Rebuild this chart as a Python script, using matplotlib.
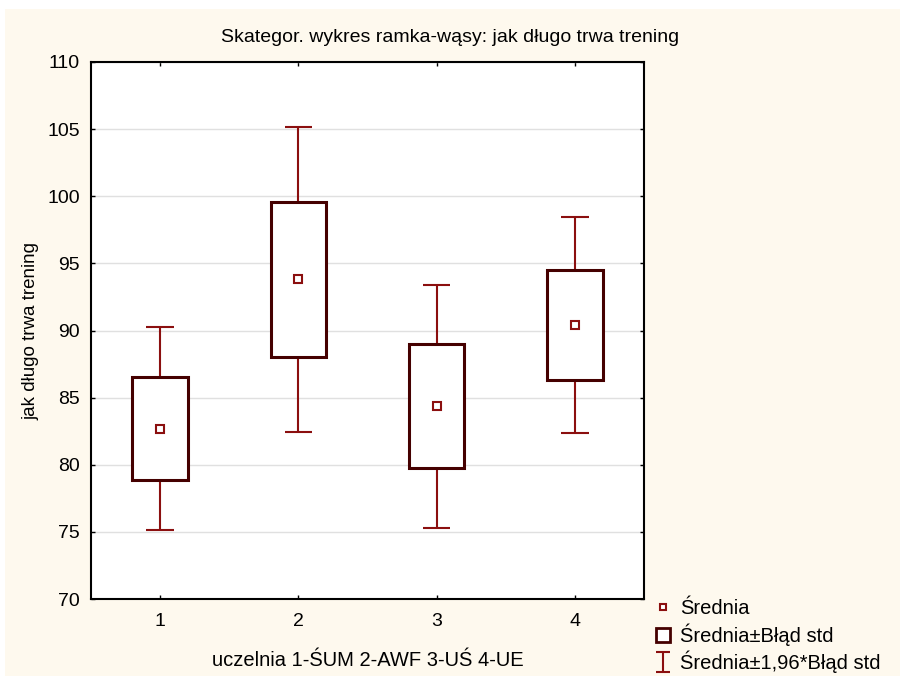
import matplotlib
matplotlib.use("Agg")
import matplotlib.pyplot as plt
import numpy as np
from matplotlib.lines import Line2D
from matplotlib.path import Path
from matplotlib.patches import Rectangle

plt.rcParams.update({
    "font.family": ["Liberation Sans", "DejaVu Sans"],
    "font.size": 14,
})

groups = [1, 2, 3, 4]
means = [82.7, 93.8, 84.35, 90.4]
se = [3.87, 5.78, 4.62, 4.10]

tick_labels = ["1", "2", "3", "4"]
yticks = [70, 75, 80, 85, 90, 95, 100, 105, 110]

whisk_col = "#8b0f0f"
box_col = "#450000"
bg = "#fef9ee"

fig = plt.figure(figsize=(9, 6.76), dpi=100, facecolor="white")
fig.add_artist(Rectangle((5 / 900, 0), 1, 1 - 9 / 676, transform=fig.transFigure,
                         facecolor=bg, edgecolor="none", zorder=-10))
ax = fig.add_axes([91 / 900, 1 - 599 / 676, (644 - 91) / 900, (599 - 62) / 676])
ax.set_facecolor("white")

m = np.array(means)
s = np.array(se)
x = np.array(groups)
bw = 0.4
cw = 0.2

# wasy
ax.vlines(x, m + s, m + 1.96 * s, color=whisk_col, lw=1.5, zorder=3)
ax.vlines(x, m - 1.96 * s, m - s, color=whisk_col, lw=1.5, zorder=3)
ax.hlines(m + 1.96 * s, x - cw / 2, x + cw / 2, color=whisk_col, lw=1.5, zorder=3)
ax.hlines(m - 1.96 * s, x - cw / 2, x + cw / 2, color=whisk_col, lw=1.5, zorder=3)

# ramki
for xi, mi, si in zip(x, m, s):
    ax.add_patch(Rectangle((xi - bw / 2, mi - si), bw, 2 * si, facecolor="white",
                           edgecolor=box_col, lw=2.2, zorder=4))

ax.plot(x, m, ls="none", marker="s", ms=6, mfc="white", mec=whisk_col, mew=1.5, zorder=5)

ax.set_xlim(0.5, 4.5)
ax.set_ylim(70, 110)
ax.set_xticks(x)
ax.set_xticklabels(tick_labels)
ax.set_yticks(yticks)
ax.yaxis.grid(True, color="#e0e0e0", lw=1)
ax.set_axisbelow(True)
ax.tick_params(direction="in", length=3, width=1, top=True, right=True, labelsize=14)
ax.tick_params(axis="x", pad=10)
ax.tick_params(axis="y", pad=8)
for sp in ax.spines.values():
    sp.set_linewidth(1.5)

fig.text(0.5, 1 - 38 / 676, "Skategor. wykres ramka-wąsy: jak długo trwa trening",
         ha="center", va="center", fontsize=14)
fig.text(0.5 * (91 + 644) / 900, 1 - 660 / 676, "uczelnia 1-ŚUM 2-AWF 3-UŚ 4-UE",
         ha="center", va="center", fontsize=14.5)
fig.text(31 / 900, 1 - 331 / 676, "jak długo trwa trening", rotation=90,
         ha="center", va="center", fontsize=13.5)

# legenda
ibeam = Path([(-0.35, 0.5), (0.35, 0.5), (0, 0.5), (0, -0.5), (-0.35, -0.5), (0.35, -0.5)],
             [Path.MOVETO, Path.LINETO, Path.MOVETO, Path.LINETO, Path.MOVETO, Path.LINETO])
handles = [
    Line2D([], [], ls="none", marker="s", ms=5, mfc="white", mec=whisk_col, mew=1.5),
    Line2D([], [], ls="none", marker="s", ms=10.5, mfc="white", mec=box_col, mew=2),
    Line2D([], [], ls="none", marker=ibeam, ms=15, mec=whisk_col, mew=1.5),
]
labels = ["Średnia", "Średnia±Błąd std", "Średnia±1,96*Błąd std"]
fig.legend(handles, labels, loc="upper left", bbox_to_anchor=(643 / 900, 1 - 589 / 676),
           frameon=False, handlelength=1.0, handletextpad=0.35, labelspacing=0.25,
           fontsize=14.5, borderpad=0)

fig.savefig("out.png", dpi=100, facecolor=fig.get_facecolor())
